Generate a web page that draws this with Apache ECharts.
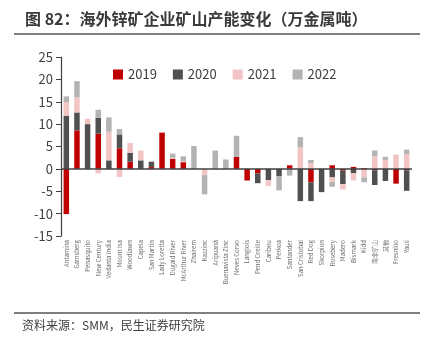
<!DOCTYPE html>
<html><head><meta charset="utf-8">
<script src="https://cdn.jsdelivr.net/npm/echarts@6/dist/echarts.min.js"></script>
<style>html,body{margin:0;padding:0;background:#fff}#c{width:426px;height:348px}</style>
</head><body><div id="c"></div>
<script>
const categories = ["Antamina","Gamsberg","Penasquito","New Century","Vedanta India","Mount Isa","Woodlawn","Capela","San Martin","Lady Loretta","Dugald River","McArthur River","Zhairem","Kazzinc","Aripuanã","Buenavista Zinc","Neves Corvo","Langlois","Pend Oreille","Caribou","Perkoa","Santander","San Cristobal","Red Dog","Skorpion","Rosebery","Madero","Bismark","Kidd","南非矿山","其他","Fresnillo","Yauli"];
const v2019 = [-10.1,8.6,0,7.9,0,4.6,1.6,0,0.4,8.1,2.2,1.5,0,0,0,0,2.7,-2.6,-1.0,0,0,0.8,0,-3.0,0,0.8,-0.4,0.45,0.2,-0.3,0,-3.3,-0.3];
const v2020 = [11.9,4.0,10.0,3.5,1.9,3.1,2.0,1.9,1.2,0,0,0,0,0,0,0,0,0,-2.2,-2.5,-1.6,0,-7.2,-4.2,-5.2,-1.9,-3.0,-1.0,0,-3.3,-2.7,0,-4.6];
const v2021 = [3.0,3.4,1.2,-1.0,6.4,-1.8,2.2,2.2,0,0,0.3,0.2,0,-1.4,0,0,0,0,0,-1.3,0,0,4.8,1.3,0,-1.0,-1.2,-1.6,-1.9,2.8,2.0,3.2,3.3];
const v2022 = [1.3,3.6,0,1.8,3.2,1.2,0,0,0,0,0.9,1.1,5.1,-4.3,4.1,2.1,4.7,0,0,0,-3.2,-1.5,2.3,0.7,0,-1.1,0,0,-1.1,1.3,0.7,0,1.0];
const yTicks = [-15,-10,-5,0,5,10,15,20,25];
const seriesNames = ["2019","2020","2021","2022"];
const colors = ["#C00000","#505050","#F2C4C4","#B3B3B3"];

const chart = echarts.init(document.getElementById('c'), null, {renderer:'canvas'});
const datas = [v2019,v2020,v2021,v2022];
const series = datas.map((d,i)=>({
  name: seriesNames[i], type:'bar', stack:'total', data:d,
  barWidth: 5.5, itemStyle:{color:colors[i]},
  markLine: i===0 ? {silent:true, symbol:'none', label:{show:false},
    lineStyle:{color:'#404040', width:1.5, type:'solid'}, data:[{yAxis:0}]} : undefined
}));
chart.setOption({
  animation:false,
  textStyle:{fontFamily:'"Noto Sans CJK SC","Noto Sans",sans-serif'},
  title:{text:'图 82：海外锌矿企业矿山产能变化（万金属吨）', left:20, top:6,
    textStyle:{fontSize:16, fontWeight:'bold', color:'#3a3a3a', fontFamily:'"Noto Sans CJK SC",sans-serif'}},
  legend:{data:seriesNames, top:63, left:108, itemWidth:10, itemHeight:10, itemGap:16,
    icon:'rect', textStyle:{fontSize:13, color:'#404040'}},
  grid:{left:61, right:14, top:57, bottom:112, containLabel:false},
  xAxis:{type:'category', data:categories,
    axisLine:{show:false, onZero:false}, axisTick:{show:false},
    axisLabel:{rotate:90, fontSize:6, color:'#707070', interval:0, margin:4}},
  yAxis:{type:'value', min:-15, max:25, interval:5,
    axisLine:{show:true, lineStyle:{color:'#404040', width:1.2}},
    axisTick:{show:true, inside:false, length:5, lineStyle:{color:'#404040'}},
    splitLine:{show:false},
    axisLabel:{fontSize:13, color:'#404040', margin:8}},
  series: series,
  graphic:[
    {type:'line', shape:{x1:14,y1:34,x2:420,y2:34}, style:{stroke:'#555', lineWidth:1.5}},
    {type:'line', shape:{x1:14,y1:313,x2:420,y2:313}, style:{stroke:'#555', lineWidth:1.5}},
    {type:'text', left:22, top:319, style:{text:'资料来源：SMM，民生证券研究院', fontSize:12, fill:'#404040',
      fontFamily:'"Noto Sans CJK SC",sans-serif'}}
  ]
});
</script></body></html>
